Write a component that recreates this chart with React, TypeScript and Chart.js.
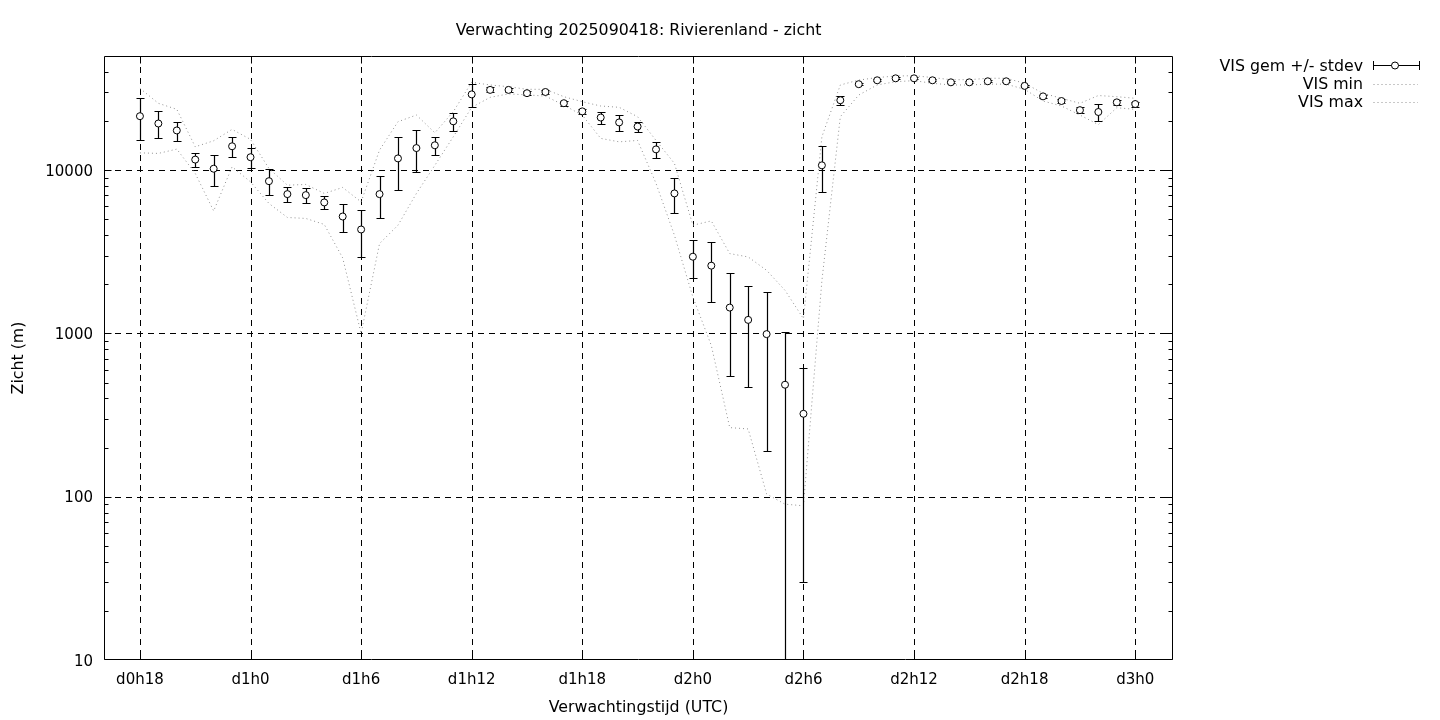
import React, { useEffect, useRef } from "react";
import { Chart, registerables } from "chart.js";

Chart.register(...registerables);

// ---- data (hours since d0h0) ----
const hours = [
  18, 19, 20, 21, 22, 23, 24, 25, 26, 27, 28, 29, 30, 31, 32, 33, 34, 35, 36,
  37, 38, 39, 40, 41, 42, 43, 44, 45, 46, 47, 48, 49, 50, 51, 52, 53, 54, 55,
  56, 57, 58, 59, 60, 61, 62, 63, 64, 65, 66, 67, 68, 69, 70, 71, 72,
];

const visMean = [
  21400, 19300, 17500, 11600, 10200, 14000, 12000, 8560, 7130, 7030, 6340,
  5200, 4330, 7130, 11800, 13650, 14200, 19900, 29100, 31000, 31000, 29600,
  30100, 25700, 22900, 21000, 19600, 18500, 13400, 7200, 2950, 2600, 1440,
  1210, 990, 485, 322, 10700, 26800, 33600, 35500, 36500, 36500, 35500, 34500,
  34500, 35000, 35000, 32800, 28300, 26500, 23300, 22700, 26000, 25400,
];

const visStdev = [
  6100, 3600, 2350, 1150, 2200, 2030, 1700, 1540, 750, 760, 580, 1000, 1400,
  2050, 4200, 3900, 1800, 2500, 4700, 1100, 900, 800, 800, 980, 870, 1700,
  2300, 1300, 1500, 1700, 760, 1045, 890, 740, 800, 534, 292, 3400, 1700, 500,
  450, 450, 500, 450, 450, 450, 450, 450, 500, 600, 900, 1050, 2600, 900, 900,
];

const visMin = [
  12760, 12660, 13450, 9550, 5625, 10480, 8475, 6250, 5130, 5060, 4650, 2900,
  1000, 3550, 4600, 7200, 10700, 16000, 24250, 27900, 29300, 28900, 28400,
  25000, 21700, 15650, 14900, 15200, 8300, 3990, 1670, 844, 265, 260, 104, 90,
  88, 2100, 21240, 28840, 33230, 34810, 35320, 34030, 33230, 33230, 33620,
  33620, 31260, 26500, 24700, 21750, 19000, 24100, 23570,
];

const visMax = [
  31700, 25660, 23570, 13900, 15130, 17770, 15420, 10240, 8090, 8170, 7200,
  7830, 6390, 13270, 19790, 21750, 16930, 22790, 34510, 33230, 32430, 31260,
  31260, 28170, 26240, 24700, 24250, 21240, 15210, 10990, 4600, 4886, 3083,
  2940, 2435, 1836, 1231, 16000, 33230, 35600, 36900, 37700, 37870, 36900,
  35800, 35800, 36530, 36530, 34030, 29550, 27540, 25660, 28630, 28170, 27540,
];

const xTickHours = [18, 24, 30, 36, 42, 48, 54, 60, 66, 72];
const yMajorTicks = [10, 100, 1000, 10000];
const yMinorFactors = [2, 3, 4, 5, 6, 7, 8, 9];

const titleText = "Verwachting 2025090418: Rivierenland - zicht";
const xTitle = "Verwachtingstijd (UTC)";
const yTitle = "Zicht (m)";
const legendLabels = ["VIS gem +/- stdev", "VIS min", "VIS max"];

const TICK_FONT = '15px "DejaVu Sans", sans-serif';
const TEXT_FONT = '15.8px "DejaVu Sans", sans-serif';
const DOT_COLOR = "#909090";
const DOT_DASH = [1, 3];

function hourLabel(h: number): string {
  const d = Math.floor(h / 24);
  return `d${d}h${h - d * 24}`;
}

const gnuplotPlugin = {
  id: "gnuplotStyle",
  beforeDatasetsDraw(chart: any) {
    const { ctx, chartArea: a } = chart;
    const x = chart.scales.x;
    const y = chart.scales.y;
    ctx.save();
    ctx.strokeStyle = "#000";
    ctx.lineWidth = 1;
    ctx.setLineDash([6, 5]);
    ctx.beginPath();
    for (const h of xTickHours) {
      const px = Math.round(x.getPixelForValue(h)) + 0.5;
      ctx.moveTo(px, a.top);
      ctx.lineTo(px, a.bottom);
    }
    for (const v of yMajorTicks) {
      if (v <= y.min || v >= y.max) continue;
      const py = Math.round(y.getPixelForValue(v)) + 0.5;
      ctx.moveTo(a.left, py);
      ctx.lineTo(a.right, py);
    }
    ctx.stroke();
    ctx.restore();
  },
  beforeDatasetDraw(chart: any, args: any) {
    if (args.index !== 0) return;
    const { ctx, chartArea: a } = chart;
    const x = chart.scales.x;
    const y = chart.scales.y;
    ctx.save();
    ctx.beginPath();
    ctx.rect(a.left, a.top, a.right - a.left, a.bottom - a.top);
    ctx.clip();
    ctx.strokeStyle = "#000";
    ctx.lineWidth = 1.2;
    ctx.setLineDash([]);
    ctx.beginPath();
    hours.forEach((h, i) => {
      const px = Math.round(x.getPixelForValue(h)) + 0.5;
      const hi = visMean[i] + visStdev[i];
      const lo = visMean[i] - visStdev[i];
      const pyHi = Math.round(y.getPixelForValue(hi)) + 0.5;
      const clipped = lo <= y.min;
      const pyLo = clipped ? a.bottom : Math.round(y.getPixelForValue(lo)) + 0.5;
      ctx.moveTo(px, pyHi);
      ctx.lineTo(px, pyLo);
      ctx.moveTo(px - 4, pyHi);
      ctx.lineTo(px + 4, pyHi);
      if (!clipped) {
        ctx.moveTo(px - 4, pyLo);
        ctx.lineTo(px + 4, pyLo);
      }
    });
    ctx.stroke();
    ctx.restore();
  },
  afterDraw(chart: any) {
    const { ctx, chartArea: a } = chart;
    const x = chart.scales.x;
    const y = chart.scales.y;
    const L = a.left + 0.5;
    const R = a.right - 0.5;
    const T = a.top + 0.5;
    const B = a.bottom - 0.5;
    const clampY = (p: number) => Math.min(B, Math.max(T, p));
    ctx.save();
    ctx.setLineDash([]);
    ctx.strokeStyle = "#000";
    ctx.lineWidth = 1;
    // border
    ctx.beginPath();
    ctx.moveTo(L, T);
    ctx.lineTo(R, T);
    ctx.lineTo(R, B);
    ctx.lineTo(L, B);
    ctx.closePath();
    ctx.stroke();
    // ticks
    ctx.beginPath();
    for (const h of xTickHours) {
      const px = Math.round(x.getPixelForValue(h)) + 0.5;
      ctx.moveTo(px, B);
      ctx.lineTo(px, B - 7);
      ctx.moveTo(px, T);
      ctx.lineTo(px, T + 7);
    }
    for (const v of yMajorTicks) {
      const py = clampY(Math.round(y.getPixelForValue(v)) + 0.5);
      ctx.moveTo(L, py);
      ctx.lineTo(L + 7, py);
      ctx.moveTo(R, py);
      ctx.lineTo(R - 7, py);
      for (const f of yMinorFactors) {
        const mv = v * f;
        if (mv >= y.max) continue;
        const mpy = clampY(Math.round(y.getPixelForValue(mv)) + 0.5);
        ctx.moveTo(L, mpy);
        ctx.lineTo(L + 4, mpy);
        ctx.moveTo(R, mpy);
        ctx.lineTo(R - 4, mpy);
      }
    }
    ctx.stroke();

    // tick labels
    ctx.fillStyle = "#000";
    ctx.font = TICK_FONT;
    ctx.textBaseline = "alphabetic";
    ctx.textAlign = "center";
    for (const h of xTickHours) {
      const px = x.getPixelForValue(h);
      ctx.fillText(hourLabel(h), px, 684);
    }
    ctx.textAlign = "right";
    for (const v of yMajorTicks) {
      const py = y.getPixelForValue(v);
      ctx.fillText(String(v), 93, py + 5.5);
    }

    // titles
    ctx.font = TEXT_FONT;
    ctx.textAlign = "center";
    ctx.fillText(titleText, (a.left + a.right) / 2, 35);
    ctx.fillText(xTitle, (a.left + a.right) / 2, 712);
    ctx.save();
    ctx.translate(23, (a.top + a.bottom) / 2);
    ctx.rotate(-Math.PI / 2);
    ctx.fillText(yTitle, 0, 0);
    ctx.restore();

    // legend
    ctx.textAlign = "right";
    const rows = [70.5, 89.3, 107.3];
    legendLabels.forEach((lab, i) => ctx.fillText(lab, 1363, rows[i]));
    const x0 = 1373.5;
    const x1 = 1419.5;
    // errorbar sample
    ctx.beginPath();
    ctx.moveTo(x0, 65.5);
    ctx.lineTo(x1, 65.5);
    ctx.moveTo(x0, 61);
    ctx.lineTo(x0, 70);
    ctx.moveTo(x1, 61);
    ctx.lineTo(x1, 70);
    ctx.stroke();
    ctx.beginPath();
    ctx.arc(1395, 65.5, 3.5, 0, Math.PI * 2);
    ctx.fillStyle = "#fff";
    ctx.fill();
    ctx.stroke();
    // dotted samples
    ctx.strokeStyle = DOT_COLOR;
    ctx.setLineDash(DOT_DASH);
    ctx.beginPath();
    ctx.moveTo(x0, 84.5);
    ctx.lineTo(1418, 84.5);
    ctx.moveTo(x0, 102.5);
    ctx.lineTo(1418, 102.5);
    ctx.stroke();
    ctx.restore();
  },
};

export default function App() {
  const canvasRef = useRef<HTMLCanvasElement | null>(null);

  useEffect(() => {
    const canvas = canvasRef.current;
    if (!canvas) return;
    const toPts = (vals: number[]) => hours.map((h, i) => ({ x: h, y: vals[i] }));
    const chart = new Chart(canvas, {
      type: "line",
      data: {
        datasets: [
          {
            label: legendLabels[0],
            data: toPts(visMean),
            showLine: false,
            pointRadius: 3.5,
            pointBorderWidth: 1,
            pointBackgroundColor: "#ffffff",
            pointBorderColor: "#000000",
            borderColor: "#000000",
            backgroundColor: "#ffffff",
          },
          {
            label: legendLabels[1],
            data: toPts(visMin),
            borderColor: DOT_COLOR,
            borderWidth: 1,
            borderDash: DOT_DASH,
            pointRadius: 0,
            tension: 0,
            fill: false,
          },
          {
            label: legendLabels[2],
            data: toPts(visMax),
            borderColor: DOT_COLOR,
            borderWidth: 1,
            borderDash: DOT_DASH,
            pointRadius: 0,
            tension: 0,
            fill: false,
          },
        ],
      },
      options: {
        responsive: false,
        animation: false,
        events: [],
        devicePixelRatio: 1,
        layout: { padding: { left: 0, top: 56, right: 1440 - 1173, bottom: 0 } },
        plugins: {
          legend: { display: false },
          title: { display: false },
          tooltip: { enabled: false },
        },
        scales: {
          x: {
            type: "linear",
            min: 16.05,
            max: 74.05,
            grid: { display: false },
            border: { display: false },
            ticks: { display: false },
            afterFit: (s: any) => {
              s.height = 720 - 660;
            },
          },
          y: {
            type: "logarithmic",
            min: 10,
            max: 50000,
            grid: { display: false },
            border: { display: false },
            ticks: { display: false },
            afterFit: (s: any) => {
              s.width = 104;
            },
          },
        },
      },
      plugins: [gnuplotPlugin],
    } as any);
    return () => chart.destroy();
  }, []);

  return (
    <div style={{ position: "absolute", left: 0, top: 0, width: 1440, height: 720, background: "#fff" }}>
      <canvas ref={canvasRef} width={1440} height={720} style={{ display: "block" }} />
    </div>
  );
}
